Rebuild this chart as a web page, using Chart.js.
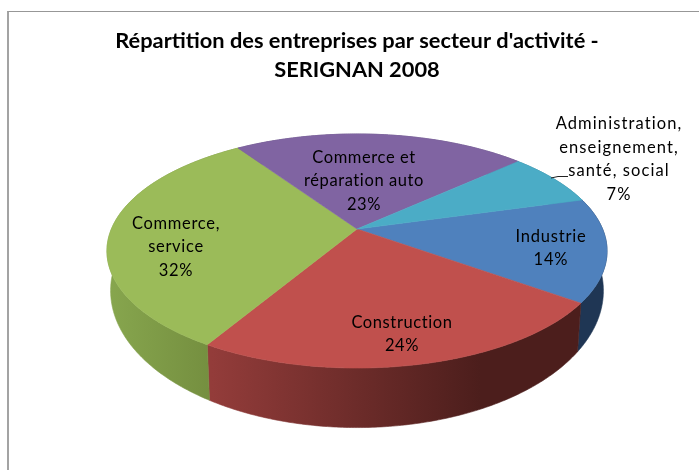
<!DOCTYPE html>
<html>
<head>
<meta charset="utf-8">
<title>Répartition des entreprises</title>
<script src="https://cdn.jsdelivr.net/npm/chart.js@4"></script>
<style>
  html, body { margin: 0; background: #fff; overflow: hidden; width: 699px; height: 470px; }
  #frame { position: absolute; left: 7px; top: 11px; width: 800px; height: 600px; border-top: 1.5px solid #979797; border-left: 2px solid #a3a3a3; }
  #pie { position: absolute; left: 0; top: 0; }
</style>
</head>
<body>
<div id="frame"></div>
<canvas id="pie" width="714" height="470"></canvas>
<script>
const categories = ['Industrie', 'Construction', 'Commerce, service', 'Commerce et réparation auto', 'Administration, enseignement, santé, social'];
const values = [14.3, 23.6, 32.0, 22.7, 7.4];
const titleLines = ["Répartition des entreprises par secteur d'activité -", 'SERIGNAN 2008'];
const labelLines = [['Industrie'], ['Construction'], ['Commerce,', 'service'], ['Commerce et', 'réparation auto'], ['Administration,', 'enseignement,', 'santé, social']];

const topColors = ['#4f81bd', '#c0504d', '#9bbb59', '#8064a2', '#4bacc6'];
// couleurs du flanc : debut et fin du degrade horizontal
const wallColors = [['#1f3654', '#1f3654'], ['#933c3a', '#4c1e1c'], ['#87a64e', '#748e3f'], ['#5f4a7a', '#5f4a7a'], ['#2f7f94', '#2f7f94']];
const wallRange = [[577, 607], [212, 480], [108, 214], [108, 607], [108, 607]];

// projection en perspective du disque (dessus et dessous)
const topFace = { x: 357, y: 229, a: 245.6, b: 112.9, k: 0.188 };
const bottomFace = { x: 357, y: 265, a: 242, b: 132, k: 0.188 };
const project = (f, t) => {
  const w = 1 - f.k * Math.sin(t);
  return [f.x + f.a * Math.cos(t) / w, f.y + f.b * Math.sin(t) / w];
};
const rim = (f, start, end) => {
  const pts = [];
  const n = Math.max(2, Math.ceil((end - start) / 0.01));
  for (let i = 0; i <= n; i++) pts.push(project(f, start + (end - start) * i / n));
  return pts;
};
const fillPath = (ctx, pts, color) => {
  ctx.beginPath();
  pts.forEach((p, i) => (i ? ctx.lineTo(p[0], p[1]) : ctx.moveTo(p[0], p[1])));
  ctx.closePath();
  ctx.fillStyle = color;
  ctx.strokeStyle = color;
  ctx.lineWidth = 0.6;
  ctx.fill();
  ctx.stroke();
};

// centre du bloc de texte de chaque etiquette
const labelPos = [[551, 248], [402, 334], [176, 247], [364, 181], [619, 159]];
const labelSpacing = [0.8, 0.6, 0.7, 0.6, 1.1];
const labelGap = 23.5;

const pie3d = {
  id: 'pie3d',
  beforeDatasetDraw(chart) {
    const ctx = chart.ctx;
    const arcs = chart.getDatasetMeta(0).data;
    ctx.save();

    // flancs
    arcs.forEach((arc, i) => {
      const top = rim(topFace, arc.startAngle, arc.endAngle);
      const bottom = rim(bottomFace, arc.startAngle, arc.endAngle).reverse();
      const grad = ctx.createLinearGradient(wallRange[i][0], 0, wallRange[i][1], 0);
      grad.addColorStop(0, wallColors[i][0]);
      grad.addColorStop(1, wallColors[i][1]);
      fillPath(ctx, top.concat(bottom), grad);
    });

    // dessus
    arcs.forEach((arc, i) => {
      fillPath(ctx, [[topFace.x, topFace.y]].concat(rim(topFace, arc.startAngle, arc.endAngle)), topColors[i]);
    });

    // trait de rappel
    ctx.beginPath();
    ctx.moveTo(551, 178);
    ctx.lineTo(558, 176.5);
    ctx.lineTo(568, 176.5);
    ctx.strokeStyle = '#222';
    ctx.lineWidth = 1;
    ctx.stroke();

    // etiquettes
    const total = values.reduce((a, b) => a + b, 0);
    ctx.font = '16.5px Lato';
    ctx.fillStyle = '#000';
    ctx.textAlign = 'center';
    ctx.textBaseline = 'middle';
    labelLines.forEach((lines, i) => {
      ctx.letterSpacing = labelSpacing[i] + 'px';
      const all = lines.concat(Math.round(values[i] / total * 100) + '%');
      const y0 = labelPos[i][1] - (all.length - 1) * labelGap / 2;
      all.forEach((t, j) => ctx.fillText(t, labelPos[i][0], y0 + j * labelGap));
    });
    ctx.restore();
    return false;
  }
};

new Chart(document.getElementById('pie'), {
  type: 'pie',
  data: {
    labels: categories,
    datasets: [{ data: values, backgroundColor: topColors, borderWidth: 0 }]
  },
  options: {
    responsive: false,
    animation: false,
    rotation: 74.3,
    plugins: {
      legend: { display: false },
      tooltip: { enabled: false },
      title: {
        display: true,
        text: titleLines,
        color: '#000',
        font: { family: 'Lato', size: 21.8, weight: 'bold', lineHeight: 1.3 },
        padding: { top: 27, bottom: 10 }
      }
    }
  },
  plugins: [pie3d]
});
</script>
</body>
</html>
